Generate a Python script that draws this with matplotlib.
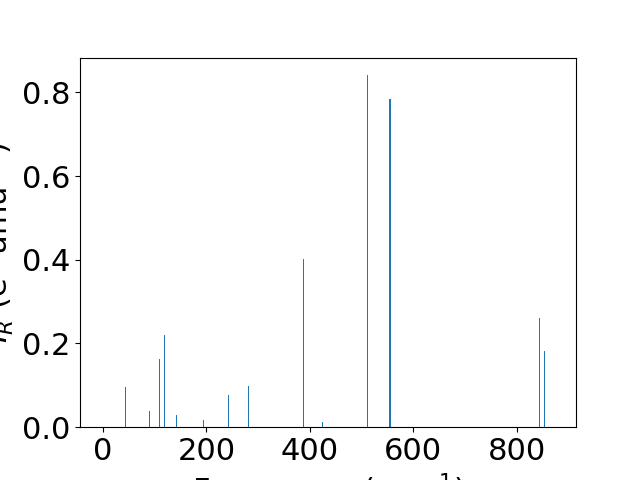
import numpy as np
import matplotlib
matplotlib.use("Agg")
import matplotlib.pyplot as plt

plt.rcParams["font.size"] = 22

# frequencies (cm^-1) and IR intensities
freq = [44, 90, 109, 119, 142, 194, 243, 281, 388, 424, 511, 555, 845, 854]
intensity = [0.095, 0.038, 0.162, 0.220, 0.029, 0.017, 0.076, 0.098,
             0.403, 0.012, 0.841, 0.783, 0.260, 0.181]

fig, ax = plt.subplots(figsize=(6.4, 4.8), dpi=100)
ax.bar(freq, intensity, width=2.5)
ax.set_xlim(-44.5, 915)
ax.set_xlabel(r"Frequency (cm$^{-1}$)")
ax.set_ylabel(r"$I_R$ (e$^2$ amu$^{-1}$)")
fig.savefig("out.png", dpi=100)
